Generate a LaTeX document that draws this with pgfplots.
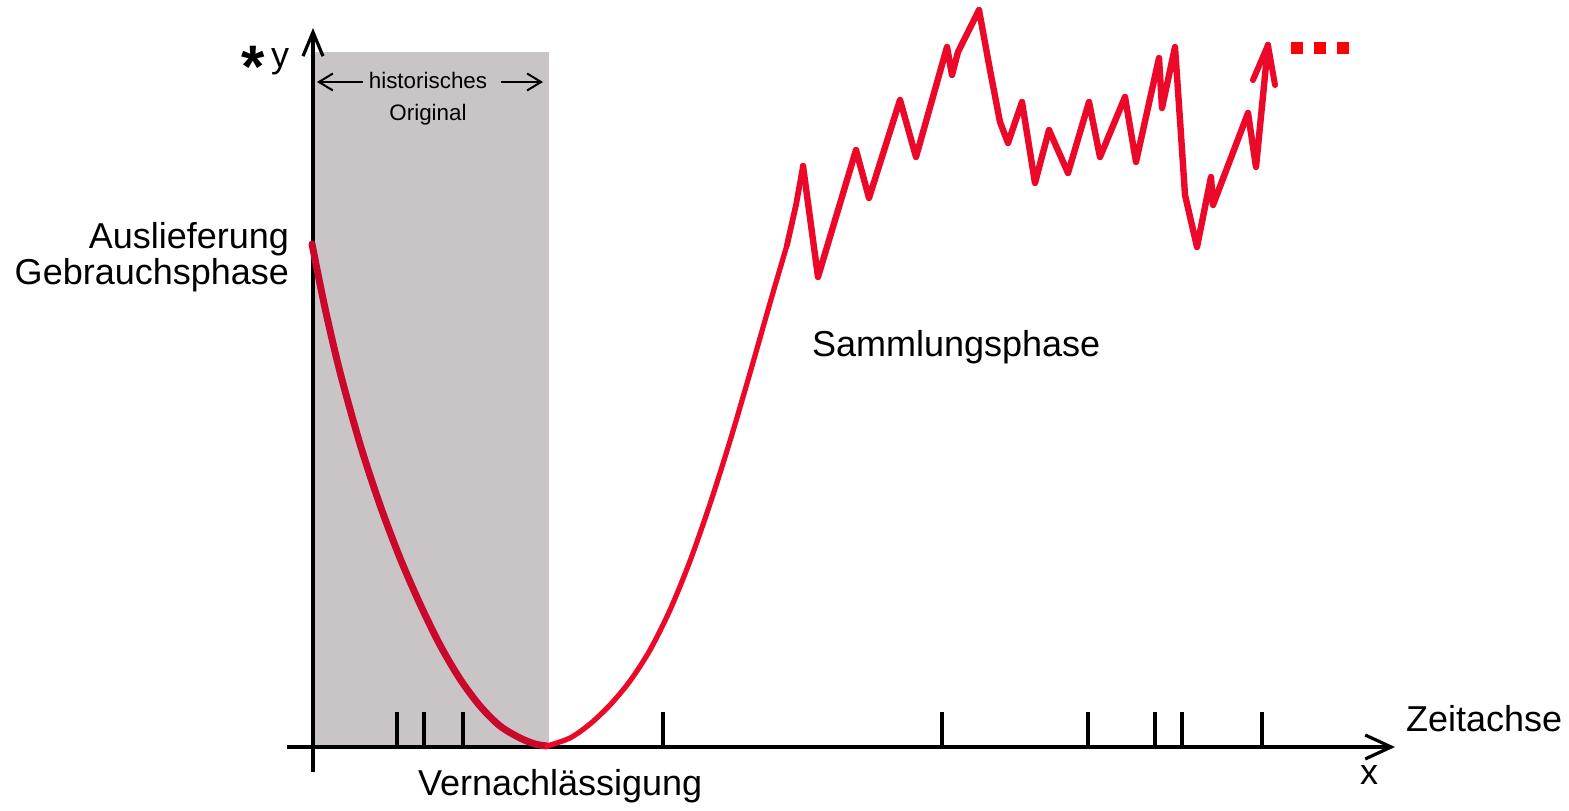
\documentclass[border=0pt]{standalone}
\usepackage{fontspec}
\setmainfont{Liberation Sans}
\usepackage{pgfplots}
\pgfplotsset{compat=1.18}
\usetikzlibrary{arrows.meta}
\definecolor{shade}{RGB}{201,197,199}
\definecolor{darkred}{RGB}{202,8,44}
\definecolor{brightred}{RGB}{236,8,40}
\begin{document}
\begin{tikzpicture}
\begin{axis}[width=784.5pt,height=404.5pt,scale only axis,
  xmin=0,xmax=1569,ymin=0,ymax=809,y dir=reverse,
  axis lines=none,clip=false]
\path (rel axis cs:0,0) rectangle (rel axis cs:1,1);
% grey band
\addplot[fill=shade,draw=none] coordinates {(313,52)(549,52)(549,747)(313,747)} --cycle;
% axes
\addplot[black,line width=1.6pt,-{Straight Barb[length=13pt,width=12pt]}] coordinates {(287,747)(1395,747)};
\addplot[black,line width=1.6pt,-{Straight Barb[length=12pt,width=10pt]}] coordinates {(313,772)(313,28)};
% ticks
\addplot[only marks,mark=|,mark size=8.75pt,mark options={line width=1.7pt},black] coordinates {
(397,729.5)(424,729.5)(463,729.5)(663,729.5)(942,729.5)(1088,729.5)(1155,729.5)(1182,729.5)(1262,729.5)};
% curve
\addplot[darkred,line width=3.5pt,smooth,line cap=round] coordinates {
(312,244)(325,308)(340,372)(360,444)(380,505)(400,558)(420,604)(440,645)(460,679)(480,706)
(500,726)(520,738)(535,744)(547,746)};
\addplot[brightred,line width=2.6pt,smooth,line cap=round] coordinates {
(547,746)(570,738)(590,724)(610,705)(630,681)(650,650)(670,610)(690,561)(710,504)(730,441)
(750,373)(770,303)(787,245)};
\addplot[brightred,line width=2.9pt,line join=round,line cap=round] coordinates {
(787,245)(796,205)(803,166)};
\addplot[brightred,line width=3.2pt,line join=round,line cap=round] coordinates {
(803,166)(818,277)(856,150)(869,198)(900,100)(916,157)(947,47)(952,75)(958,52)(979,10)
(990,70)(1000,122)(1008,143)(1022,102)(1035,183)(1049,130)(1068,173)(1089,102)(1100,157)(1125,97)
(1136,162)(1159,58)(1162,108)(1175,47)(1180,120)(1185,195)(1197,247)(1211,177)(1213,205)(1248,113)
(1256,167)(1268,45)};
\addplot[brightred,line width=3pt,line join=round,line cap=round] coordinates {(1253,80)(1268,45)(1275,85)};
% dots
\addplot[only marks,mark=square*,mark size=2.75pt,red,mark options={draw=red,fill=red}] coordinates {(1297,48)(1320,48)(1343,48)};
% arrows for historisches
\addplot[black,line width=1pt,-{Straight Barb[length=7pt,width=8.5pt]}] coordinates {(363,82)(317,82)};
\addplot[black,line width=1pt,-{Straight Barb[length=7pt,width=8.5pt]}] coordinates {(501,82)(543,82)};
% texts
\node[anchor=base,font=\fontsize{11.2}{12}\selectfont] at (axis cs:428,89) {historisches};
\node[anchor=base,font=\fontsize{11.2}{12}\selectfont] at (axis cs:428,121) {Original};
\node[anchor=base,font=\fontsize{30}{30}\selectfont\bfseries] at (axis cs:253,88) {*};
\node[anchor=base,font=\fontsize{18}{18}\selectfont] at (axis cs:280,68) {y};
\node[anchor=base east,font=\fontsize{18}{18}\selectfont] at (axis cs:296,249) {Auslieferung};
\node[anchor=base east,font=\fontsize{18}{18}\selectfont] at (axis cs:296,285) {Gebrauchsphase};
\node[anchor=base west,font=\fontsize{18}{18}\selectfont] at (axis cs:805,357) {Sammlungsphase};
\node[anchor=base west,font=\fontsize{18}{18}\selectfont] at (axis cs:411,796) {Vernachlässigung};
\node[anchor=base west,font=\fontsize{18}{18}\selectfont] at (axis cs:1399,732) {Zeitachse};
\node[anchor=base,font=\fontsize{18}{18}\selectfont] at (axis cs:1369,784) {x};
\end{axis}
\end{tikzpicture}
\end{document}
